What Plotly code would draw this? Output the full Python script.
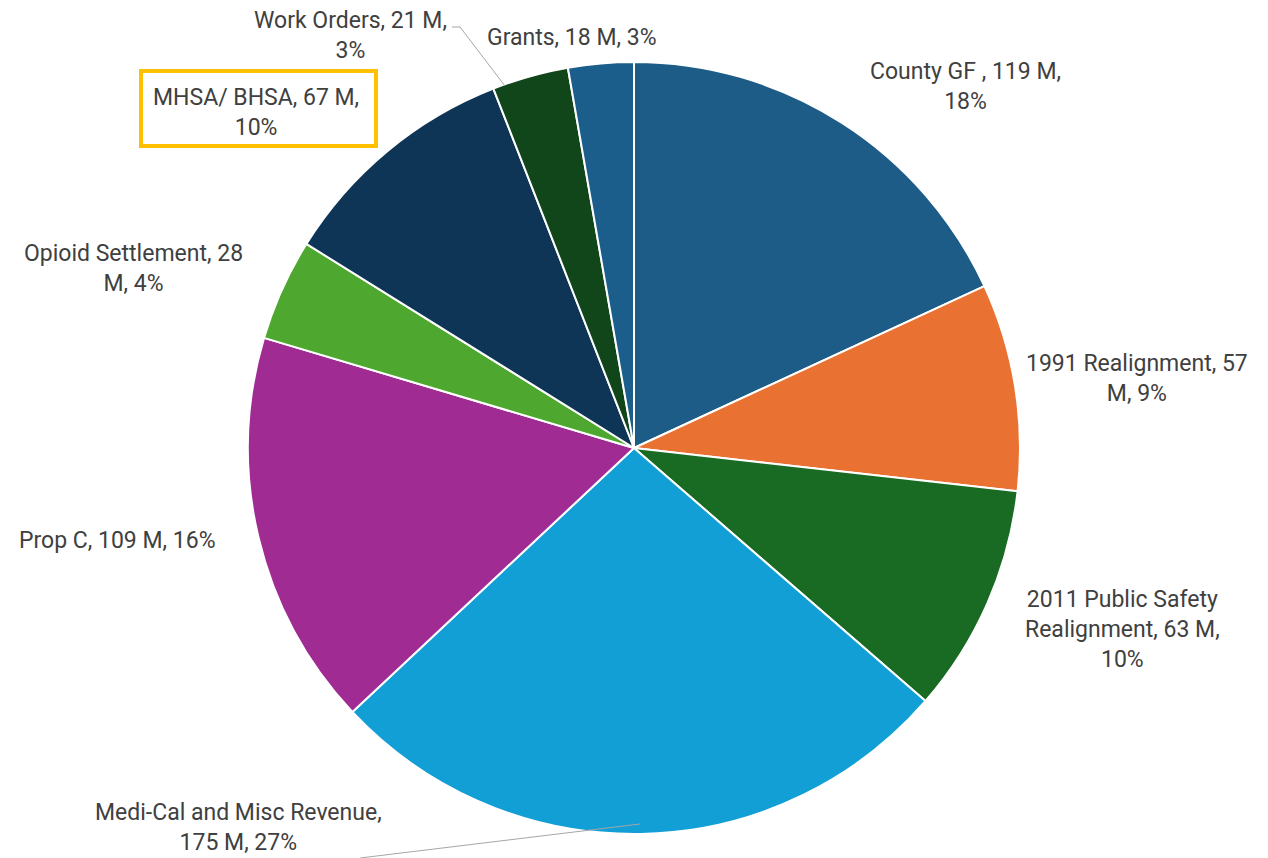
import plotly.graph_objects as go

W, H = 1268, 858

categories = ["County GF ", "1991 Realignment", "2011 Public Safety Realignment",
              "Medi-Cal and Misc Revenue", "Prop C", "Opioid Settlement",
              "MHSA/ BHSA", "Work Orders", "Grants"]
values_m = [119, 57, 63, 175, 109, 28, 67, 21, 18]
percent_labels = ["18%", "9%", "10%", "27%", "16%", "4%", "10%", "3%", "3%"]

colors = ["#1d5c87", "#e97132", "#196b24", "#129fd6", "#a02b93",
          "#4ea72e", "#0f3556", "#10461a", "#1b5e8c"]

# label text layout (line breaks as in the original)
label_texts = [
    "County GF , 119 M,<br>18%",
    "1991 Realignment, 57<br>M, 9%",
    "2011 Public Safety<br>Realignment, 63 M,<br>10%",
    "Medi-Cal and Misc Revenue,<br>175 M, 27%",
    "Prop C, 109 M, 16%",
    "Opioid Settlement, 28<br>M, 4%",
    "MHSA/ BHSA, 67 M,<br>10%",
    "Work Orders, 21 M,<br>3%",
    "Grants, 18 M, 3%",
]
# label centres in pixels (layout only)
label_px = [(965, 86), (1137, 378), (1122, 629), (238, 827), (117, 540),
            (133, 268), (256, 112), (350, 35), (572, 38)]


def px(x, y):
    return x / W, 1 - y / H


cx, cy, r = 634, 448, 386
dx0, dy0 = px(cx - r, cy + r)
dx1, dy1 = px(cx + r, cy - r)

fig = go.Figure(go.Pie(
    labels=categories,
    values=values_m,
    sort=False,
    direction="clockwise",
    rotation=0,
    textinfo="none",
    hoverinfo="label+value+percent",
    marker=dict(colors=colors, line=dict(color="white", width=2)),
    domain=dict(x=[dx0, dx1], y=[dy0, dy1]),
    showlegend=False,
))

annotations = []
for txt, (x, y) in zip(label_texts, label_px):
    ax, ay = px(x, y)
    annotations.append(dict(
        x=ax, y=ay, xref="paper", yref="paper", text=txt, showarrow=False,
        xanchor="center", yanchor="middle", align="center",
        font=dict(family="Roboto", size=23, color="#404040"),
    ))

shapes = []
# highlight box around the MHSA label
bx0, by0 = px(141, 146)
bx1, by1 = px(376, 71)
shapes.append(dict(type="rect", xref="paper", yref="paper",
                   x0=bx0, y0=by0, x1=bx1, y1=by1,
                   line=dict(color="#ffc000", width=4)))
# leader lines
for pts in [[(452, 27), (460, 27), (505, 86)], [(360, 858), (640, 824)]]:
    for (xa, ya), (xb, yb) in zip(pts[:-1], pts[1:]):
        p0 = px(xa, ya)
        p1 = px(xb, yb)
        shapes.append(dict(type="line", xref="paper", yref="paper",
                           x0=p0[0], y0=p0[1], x1=p1[0], y1=p1[1],
                           line=dict(color="#a6a6a6", width=1)))

fig.update_layout(
    width=W, height=H,
    margin=dict(l=0, r=0, t=0, b=0),
    paper_bgcolor="white", plot_bgcolor="white",
    annotations=annotations, shapes=shapes,
)

fig.write_html("out.html")
